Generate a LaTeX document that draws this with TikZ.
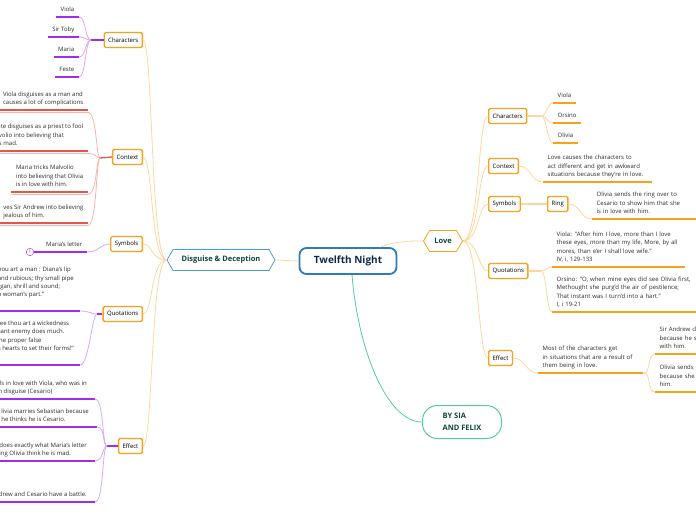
\documentclass[tikz,border=0pt]{standalone}
\usepackage{fontspec}
\setmainfont{Open Sans}
\usetikzlibrary{shapes.symbols}
\definecolor{boxorange}{HTML}{F7A21B}
\definecolor{linkorange}{HTML}{FCD7A0}
\definecolor{deeppurple}{HTML}{A12CEF}
\definecolor{softpurple}{HTML}{D9A8F8}
\definecolor{deepred}{HTML}{E0584C}
\definecolor{softred}{HTML}{F6B3AB}
\definecolor{rootblue}{HTML}{2B7BC0}
\definecolor{mainblue}{HTML}{4B9CD9}
\definecolor{byteal}{HTML}{55C9A8}
\definecolor{navytext}{HTML}{0E2A4B}
\definecolor{greentext}{HTML}{10463A}
\definecolor{leafgray}{HTML}{2B2B2B}
\newcommand{\leaffont}{\fontsize{6}{8.3}\selectfont}
\tikzset{
  root/.style={draw=rootblue, line width=1.8pt, rounded corners=7pt, fill=white,
    minimum width=97pt, minimum height=26pt, text=navytext,
    font=\fontsize{10}{12}\selectfont\bfseries},
  main/.style={signal, signal to=east and west, signal pointer angle=120,
    draw=#1, line width=0.8pt, fill=white, minimum height=21pt, text=greentext,
    font=\fontsize{7.5}{9}\selectfont\bfseries},
  credit/.style={draw=byteal, line width=1pt, rounded corners=15pt, fill=white,
    minimum width=79pt, minimum height=33pt, align=left, text=greentext,
    font=\fontsize{7.5}{12}\selectfont\bfseries},
  topic/.style={draw=boxorange, line width=1.3pt, rounded corners=1.5pt, fill=white,
    minimum height=15pt, inner xsep=4pt, text=black, font=\leaffont},
  leaf/.style={inner xsep=4.5pt, inner ysep=3pt, align=left, text=leafgray,
    font=\leaffont, execute at end node=\strut},
  numbadge/.style={draw=deeppurple, circle, inner sep=0pt, minimum size=7.5pt,
    text=deeppurple, font=\fontsize{4.5}{5}\selectfont},
  ul/.style={draw=#1, line width=1.3pt},
  link/.style={draw=#1, line width=0.8pt},
}
\begin{document}
\begin{tikzpicture}[x=1pt, y=-1pt]
  \useasboundingbox (0,0) rectangle (696,520);
  \clip (0,0) rectangle (696,520);

  % central topic and main branches
  \node[root] (tn) at (348,261) {Twelfth Night};
  \node[main=mainblue, minimum width=108pt] (dis) at (221,260) {Disguise \& Deception};
  \node[main=boxorange, minimum width=39pt] (love) at (443,241) {Love};
  \node[credit] (by) at (462,422) {BY SIA\\AND FELIX};
  \draw[link=linkorange] (tn.west) -- (dis.east);
  \draw[link=linkorange] ([xshift=32pt]tn.north) .. controls +(16,-6) and +(-14,0) .. (love.west);
  \draw[link=byteal] ([xshift=4pt]tn.south) .. controls +(6,75) and +(-35,0) .. (by.west);

  % Disguise & Deception
  \node[topic, anchor=east] (lchar) at (143,40) {Characters};
  \node[topic, anchor=east] (lctx) at (143,157) {Context};
  \node[topic, anchor=east] (lsym) at (143,244) {Symbols};
  \node[topic, anchor=east] (lquo) at (143,314) {Quotations};
  \node[topic, anchor=east] (leff) at (143,446) {Effect};
  \draw[link=linkorange] (dis.west) .. controls +(-16,0) and +(10,0) .. (lchar.east);
  \draw[link=linkorange] (dis.west) .. controls +(-16,0) and +(10,0) .. (lctx.east);
  \draw[link=linkorange] (dis.west) .. controls +(-16,0) and +(10,0) .. (lsym.east);
  \draw[link=linkorange] (dis.west) .. controls +(-16,0) and +(10,0) .. (lquo.east);
  \draw[link=linkorange] (dis.west) .. controls +(-16,0) and +(10,0) .. (leff.east);

  \coordinate (lchub) at (91,40);
  \node[leaf, anchor=south east] (lc1) at (79,17) {Viola};
  \node[leaf, anchor=south east] (lc2) at (79,37) {Sir Toby};
  \node[leaf, anchor=south east] (lc3) at (79,57) {Maria};
  \node[leaf, anchor=south east] (lc4) at (79,77) {Feste};
  \draw[ul=deeppurple] (lchar.west) -- (lchub);
  \draw[link=softpurple] (lc1.south east) .. controls +(7,0) and +(-6,0) .. (lchub);
  \draw[link=softpurple] (lc2.south east) .. controls +(7,0) and +(-6,0) .. (lchub);
  \draw[link=softpurple] (lc3.south east) .. controls +(7,0) and +(-6,0) .. (lchub);
  \draw[link=softpurple] (lc4.south east) .. controls +(7,0) and +(-6,0) .. (lchub);
  \draw[ul=deeppurple] (lc1.south west) -- (lc1.south east);
  \draw[ul=deeppurple] (lc2.south west) -- (lc2.south east);
  \draw[ul=deeppurple] (lc3.south west) -- (lc3.south east);
  \draw[ul=deeppurple] (lc4.south west) -- (lc4.south east);

  \coordinate (lxhub) at (100,158);
  \node[leaf, anchor=south east] (lx1) at (88,110) {Viola disguises as a man and\\causes a lot of complications};
  \node[leaf, anchor=south east] (lx2) at (88,151) {ate disguises as a priest to fool\\lvolio into believing that\\is mad.};
  \node[leaf, anchor=south east] (lx3) at (88,192) {Maria tricks Malvolio\\into believing that Olivia\\is in love with him.};
  \node[leaf, anchor=south east] (lx4) at (88,223) {ves Sir Andrew into believing\\jealous of him.};
  \draw[ul=deepred] (lctx.west) -- (lxhub);
  \draw[link=softred] ([yshift=-2.5pt]lx1.south west) -- ([yshift=-2.5pt]lx1.south east) .. controls +(9,0) and +(-4,0) .. (lxhub);
  \draw[link=softred] ([yshift=-2.5pt]lx2.south west) -- ([yshift=-2.5pt]lx2.south east) .. controls +(9,0) and +(-4,0) .. (lxhub);
  \draw[link=softred] ([yshift=-2.5pt]lx3.south west) -- ([yshift=-2.5pt]lx3.south east) .. controls +(9,0) and +(-4,0) .. (lxhub);
  \draw[link=softred] ([yshift=-2.5pt]lx4.south west) -- ([yshift=-2.5pt]lx4.south east) .. controls +(9,0) and +(-4,0) .. (lxhub);
  \draw[ul=deepred] (lx1.south west) -- (lx1.south east);
  \draw[ul=deepred] (lx2.south west) -- (lx2.south east);
  \draw[ul=deepred] (lx3.south west) -- (lx3.south east);
  \draw[ul=deepred] (lx4.south west) -- (lx4.south east);

  \node[numbadge] (num) at (30,252) {1};
  \node[leaf, anchor=south east] (ls1) at (87,252) {Maria's letter};
  \draw[ul=deeppurple] (num.east) -- (ls1.south east);
  \draw[link=softpurple] (ls1.south east) .. controls +(12,0) and +(-10,0) .. (lsym.west);

  \coordinate (lqhub) at (97,314);
  \node[leaf, anchor=south east, inner xsep=6pt, inner ysep=11.5pt] (lq1) at (80,311) {hou art a man : Diana's lip\\and rubious; thy small pipe\\rgan, shrill and sound;\\a woman's part."};
  \node[leaf, anchor=south east, inner xsep=6pt, inner ysep=12pt] (lq2) at (80,365) {see thou art a wickedness\\nant enemy does much.\\the proper false\\n hearts to set their forms!"};
  \draw[ul=deeppurple] (lquo.west) -- (lqhub);
  \draw[link=softpurple] (lq1.south east) .. controls +(9,0) and +(-5,0) .. (lqhub);
  \draw[link=softpurple] (lq2.south east) .. controls +(9,0) and +(-5,0) .. (lqhub);
  \draw[ul=deeppurple] (lq1.south west) -- (lq1.south east);
  \draw[ul=deeppurple] (lq2.south west) -- (lq2.south east);

  \coordinate (lehub) at (107,446);
  \node[leaf, anchor=south east, inner xsep=8pt] (le1) at (95,399) {lls in love with Viola, who was in\\n disguise (Cesario)};
  \node[leaf, anchor=south east, inner xsep=8pt] (le2) at (97,427) {livia marries Sebastian because\\he thinks he is Cesario.};
  \node[leaf, anchor=south east, inner xsep=8pt] (le3) at (95,461) {does exactly what Maria's letter\\ing Olivia think he is mad.};
  \node[leaf, anchor=south east, inner xsep=8pt] (le4) at (95,502) {drew and Cesario have a battle.};
  \draw[ul=deeppurple] (leff.west) -- (lehub);
  \draw[link=softpurple] (le1.south east) .. controls +(9,0) and +(-5,0) .. (lehub);
  \draw[link=softpurple] (le2.south east) .. controls +(9,0) and +(-5,0) .. (lehub);
  \draw[link=softpurple] (le3.south east) .. controls +(9,0) and +(-5,0) .. (lehub);
  \draw[link=softpurple] (le4.south east) .. controls +(9,0) and +(-5,0) .. (lehub);
  \draw[ul=deeppurple] (le1.south west) -- (le1.south east);
  \draw[ul=deeppurple] (le2.south west) -- (le2.south east);
  \draw[ul=deeppurple] (le3.south west) -- (le3.south east);
  \draw[ul=deeppurple] (le4.south west) -- (le4.south east);

  % Love
  \node[topic, anchor=west] (rchar) at (488,116) {Characters};
  \node[topic, anchor=west] (rctx) at (488,166) {Context};
  \node[topic, anchor=west] (rsym) at (488,204) {Symbols};
  \node[topic, anchor=west] (rquo) at (488,271) {Quotations};
  \node[topic, anchor=west] (reff) at (488,358) {Effect};
  \node[topic, anchor=west] (ring) at (547,204) {Ring};
  \draw[link=linkorange] (love.east) .. controls +(16,0) and +(-10,0) .. (rchar.west);
  \draw[link=linkorange] (love.east) .. controls +(16,0) and +(-10,0) .. (rctx.west);
  \draw[link=linkorange] (love.east) .. controls +(16,0) and +(-10,0) .. (rsym.west);
  \draw[link=linkorange] (love.east) .. controls +(16,0) and +(-10,0) .. (rquo.west);
  \draw[link=linkorange] (love.east) .. controls +(16,0) and +(-10,0) .. (reff.west);

  \coordinate (rchub) at (541,116);
  \node[leaf, anchor=south west] (rc1) at (553,103) {Viola};
  \node[leaf, anchor=south west] (rc2) at (553,123) {Orsino};
  \node[leaf, anchor=south west] (rc3) at (553,143) {Olivia};
  \draw[ul=linkorange] (rchar.east) -- (rchub);
  \draw[link=linkorange] (rchub) .. controls +(6,0) and +(-6,0) .. (rc1.south west);
  \draw[link=linkorange] (rchub) .. controls +(6,0) and +(-6,0) .. (rc2.south west);
  \draw[link=linkorange] (rchub) .. controls +(6,0) and +(-6,0) .. (rc3.south west);
  \draw[ul=boxorange] (rc1.south west) -- (rc1.south east);
  \draw[ul=boxorange] (rc2.south west) -- (rc2.south east);
  \draw[ul=boxorange] (rc3.south west) -- (rc3.south east);

  \node[leaf, anchor=south west, text width=100pt] (rx1) at (543,182) {Love causes the characters to\\act different and get in awkward\\situations because they're in love.};
  \draw[link=linkorange] (rctx.east) .. controls +(12,0) and +(-12,0) .. (rx1.south west);
  \draw[ul=boxorange] (rx1.south west) -- (rx1.south east);

  \node[leaf, anchor=south west, text width=110pt] (rr1) at (592,219) {Olivia sends the ring over to\\Cesario to show him that she\\is in love with him.};
  \draw[ul=linkorange] (rsym.east) -- (ring.west);
  \draw[link=linkorange] (ring.east) .. controls +(12,0) and +(-12,0) .. (rr1.south west);
  \draw[ul=boxorange] (rr1.south west) -- (rr1.south east);

  \coordinate (rqhub) at (541,271);
  \node[leaf, anchor=south west, text width=124pt] (rq1) at (552,267) {Viola: "After him I love, more than I love\\these eyes, more than my life, More, by all\\mores, than e'er I shall love wife."\\IV, i, 129-133};
  \node[leaf, anchor=south west, text width=140pt] (rq2) at (552,312) {Orsino: "O, when mine eyes did see Olivia first,\\Methought she purg'd the air of pestilence;\\That instant was I turn'd into a hart."\\I, i 19-21};
  \draw[ul=linkorange] (rquo.east) -- (rqhub);
  \draw[link=linkorange] (rqhub) .. controls +(6,0) and +(-6,0) .. (rq1.south west);
  \draw[link=linkorange] (rqhub) .. controls +(6,0) and +(-6,0) .. (rq2.south west);
  \draw[ul=boxorange] (rq1.south west) -- (rq1.south east);
  \draw[ul=boxorange] (rq2.south west) -- (rq2.south east);

  \node[leaf, anchor=south west, text width=96pt] (re1) at (538,373) {Most of the characters get\\in situations that are a result of\\them being in love.};
  \node[leaf, anchor=south west, text width=150pt] (rs1) at (655,354) {Sir Andrew challenges Cesario\\because he suspects Olivia is in love\\with him.};
  \node[leaf, anchor=south west, text width=150pt] (rs2) at (655,392) {Olivia sends Cesario a ring\\because she is in love with\\him.};
  \draw[link=linkorange] (reff.east) .. controls +(12,0) and +(-12,0) .. (re1.south west);
  \draw[link=linkorange] (re1.south east) .. controls +(8,0) and +(-8,0) .. (rs1.south west);
  \draw[link=linkorange] (re1.south east) .. controls +(8,0) and +(-8,0) .. (rs2.south west);
  \draw[ul=boxorange] (re1.south west) -- (re1.south east);
  \draw[ul=boxorange] (rs1.south west) -- (rs1.south east);
  \draw[ul=boxorange] (rs2.south west) -- (rs2.south east);
\end{tikzpicture}
\end{document}
